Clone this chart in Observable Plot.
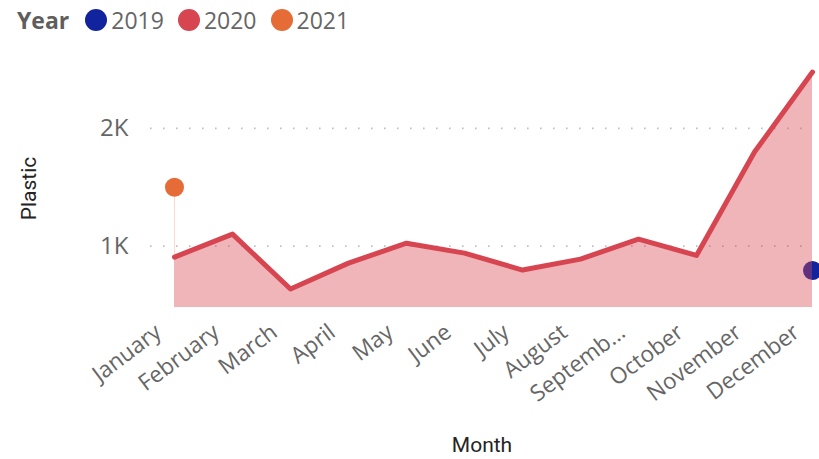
<!DOCTYPE html>
<html><head><meta charset="utf-8">
<script src="https://cdn.jsdelivr.net/npm/d3@7"></script>
<script src="https://cdn.jsdelivr.net/npm/@observablehq/plot@0.6"></script>
<style>
body{margin:0;background:#fff;font-family:"Open Sans","Noto Sans",sans-serif;}
#legend{height:40px;display:flex;align-items:center;padding-left:17px;font-size:23px;color:#666;}
#legend b{color:#605E5C;margin-right:16px;}
#legend .sw{display:inline-block;width:22px;height:22px;border-radius:50%;margin-right:4px;}
#legend .it{display:flex;align-items:center;margin-right:14px;}
svg{display:block;}
</style></head><body>
<div id="legend"></div>
<div id="chart"></div>
<script>
const legendTitle = "Year";
const years = ["2019", "2020", "2021"];
const yearColors = ["#12239E", "#D64550", "#E66C37"];
const months = ["January","February","March","April","May","June","July","August","September","October","November","December"];
const plastic2020 = [907, 1102, 636, 856, 1025, 941, 797, 890, 1059, 921, 1799, 2478];
const months2019 = ["December"];
const plastic2019 = [793];
const months2021 = ["January"];
const plastic2021 = [1500];
const yTicks = [1000, 2000];
const yTickLabels = ["1K", "2K"];

const legend = document.getElementById("legend");
legend.innerHTML = `<b>${legendTitle}</b>` + years.map((y, i) =>
  `<span class="it"><span class="sw" style="background:${yearColors[i]}"></span>${y}</span>`).join("");

const d2020 = months.map((m, i) => ({month: m, value: plastic2020[i], year: "2020"}));
const d2019 = months2019.map((m, i) => ({month: m, value: plastic2019[i], year: "2019"}));
const d2021 = months2021.map((m, i) => ({month: m, value: plastic2021[i], year: "2021"}));
const jan2020 = d2020.find(d => d.month === months2021[0]).value;

const lo = 479;
const titleFont = '"Roboto","DejaVu Sans Condensed",sans-serif';
const chart = Plot.plot({
  width: 819,
  height: 419,
  marginLeft: 150,
  marginRight: 6,
  marginTop: 29,
  marginBottom: 152,
  style: {fontFamily: '"Open Sans","Noto Sans",sans-serif', background: "#fff", overflow: "hidden"},
  x: {type: "point", domain: months, insetLeft: 23, padding: 0},
  y: {domain: [lo, 2500]},
  marks: [
    Plot.ruleY(yTicks, {stroke: "#c0c0c0", strokeWidth: 1.6, strokeDasharray: "1.6,11.4"}),
    Plot.dot(d2019, {x: "month", y: "value", r: 9.5, fill: yearColors[0]}),
    Plot.areaY(d2020, {x: "month", y1: lo, y2: "value", fill: yearColors[1], fillOpacity: 0.4, curve: "linear"}),
    Plot.lineY(d2020, {x: "month", y: "value", stroke: yearColors[1], strokeWidth: 5, strokeLinejoin: "round", strokeLinecap: "round"}),
    Plot.ruleX(d2021, {x: "month", y1: jan2020, y2: "value", stroke: yearColors[2], strokeOpacity: 0.25, strokeWidth: 1}),
    Plot.dot(d2021, {x: "month", y: "value", r: 9.5, fill: yearColors[2]}),
    Plot.axisY(yTicks, {tickFormat: (d) => yTickLabels[yTicks.indexOf(d)], tickSize: 0, tickPadding: 22, fontSize: 24, color: "#666", label: null}),
    Plot.axisX({tickRotate: -37, tickSize: 0, tickPadding: 22, dx: -16, fontSize: 22.5, color: "#666", label: null,
      tickFormat: (d) => d === "September" ? "Septemb..." : d}),
    Plot.text(["Plastic"], {frameAnchor: "left", dx: -121, rotate: -90, textAnchor: "middle", lineAnchor: "middle", fontSize: 21, fill: "#252423", fontFamily: titleFont}),
    Plot.text(["Month"], {frameAnchor: "bottom", dy: 138, textAnchor: "middle", lineAnchor: "middle", fontSize: 21, fill: "#252423", fontFamily: titleFont})
  ]
});
document.getElementById("chart").appendChild(chart);
</script>
</body></html>
